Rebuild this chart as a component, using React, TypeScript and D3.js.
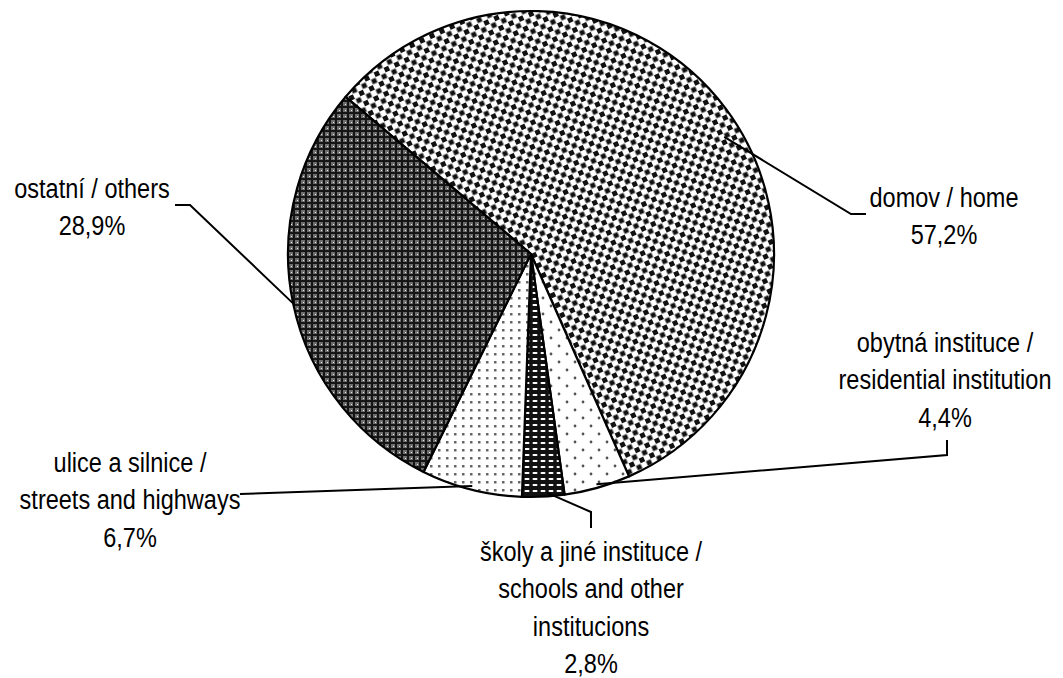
import React from "react";
import * as d3 from "d3";

// slice order follows the chart, clockwise from the upper-left boundary
const categories = ["domov", "obytna", "skoly", "ulice", "ostatni"];
const shares = [57.2, 4.4, 2.8, 6.7, 28.9];
const labelLines = [
  ["domov / home", "57,2%"],
  ["obytná instituce /", "residential institution", "4,4%"],
  ["školy a jiné instituce /", "schools and other", "institucions", "2,8%"],
  ["ulice a silnice /", "streets and highways", "6,7%"],
  ["ostatní / others", "28,9%"],
];

const W = 1063;
const H = 678;
const cx = 531;
const cy = 254;
const R = 243;
const startDeg = -49.7;

// label layout: text centre x, first baseline, leader elbow points
const labelX = [944, 945, 591, 130, 92];
const labelY = [207, 352, 561, 472, 198];
const leaderPts: [number, number][][] = [
  [[851, 214], [866, 214]],
  [[947, 455], [947, 440]],
  [[591, 512], [591, 528]],
  [[240, 494]],
  [[190, 205], [175, 205]],
];
const leaderAngleShift = [5.5, 0, -1, 0, 0];
const leaderRadius = [0.93, 0.985, 0.985, 0.985, 1];
const fills = ["url(#pHome)", "url(#pRes)", "url(#pSch)", "url(#pStr)", "url(#pOth)"];

const rad = (d: number) => (d * Math.PI) / 180;

export default function App() {
  const pie = d3
    .pie<number>()
    .sort(null)
    .value((d) => d)
    .startAngle(rad(startDeg))
    .endAngle(rad(startDeg) + 2 * Math.PI);
  const arcs = pie(shares);
  const arc = d3.arc<d3.PieArcDatum<number>>().innerRadius(0).outerRadius(R);
  const line = d3.line();
  const lh = 37.5;
  const sy = 1.15;

  return (
    <svg
      width={W}
      height={H}
      style={{ position: "absolute", left: 0, top: 0, background: "#fff" }}
      fontFamily="'Liberation Sans', Arial, sans-serif"
    >
      <defs>
        <pattern id="pHome" width="11" height="11" patternUnits="userSpaceOnUse" patternTransform="rotate(-25)">
          <rect width="11" height="11" fill="#fff" />
          <rect x="0" y="0" width="5" height="5" fill="#111" />
          <rect x="5.5" y="5.5" width="5" height="5" fill="#111" />
        </pattern>
        <pattern id="pOth" width="6" height="6" patternUnits="userSpaceOnUse">
          <rect width="6" height="6" fill="#6e6e6e" />
          <rect x="2" y="0" width="2" height="6" fill="#151515" />
          <rect x="0" y="2" width="6" height="2" fill="#151515" />
          <rect x="0" y="0" width="1" height="1" fill="#e8e8e8" />
        </pattern>
        <pattern id="pStr" width="8" height="8" patternUnits="userSpaceOnUse">
          <rect width="8" height="8" fill="#fff" />
          <rect x="3" y="3" width="2.5" height="2.5" fill="#666" />
        </pattern>
        <pattern id="pSch" width="8" height="6" patternUnits="userSpaceOnUse">
          <rect width="8" height="6" fill="#111" />
          <rect x="1.5" y="2" width="5" height="2" rx="1" fill="#fff" />
        </pattern>
        <pattern id="pRes" width="16" height="16" patternUnits="userSpaceOnUse">
          <rect width="16" height="16" fill="#fff" />
          <circle cx="4" cy="4" r="1.4" fill="#555" />
          <circle cx="12" cy="12" r="1.4" fill="#555" />
        </pattern>
      </defs>

      <g transform={`translate(${cx},${cy})`}>
        {arcs.map((a, i) => (
          <path key={categories[i]} d={arc(a) || ""} fill={fills[i]} stroke="#000" strokeWidth={2.2} strokeLinejoin="round" />
        ))}
      </g>

      {arcs.map((a, i) => {
        const mid = (a.startAngle + a.endAngle) / 2 + rad(leaderAngleShift[i]);
        const r = R * leaderRadius[i];
        const start: [number, number] = [cx + r * Math.sin(mid), cy - r * Math.cos(mid)];
        return (
          <path
            key={"l" + i}
            d={line([start, ...leaderPts[i]]) || ""}
            fill="none"
            stroke="#000"
            strokeWidth={2}
          />
        );
      })}

      {labelLines.map((lines, i) => (
        <g key={"t" + i} transform={`translate(${labelX[i]},${labelY[i]}) scale(0.98,${sy})`}>
          <text textAnchor="middle" fontSize={24} fill="#000">
            {lines.map((s, j) => (
              <tspan key={j} x={0} y={(j * lh) / sy}>
                {s}
              </tspan>
            ))}
          </text>
        </g>
      ))}
    </svg>
  );
}
